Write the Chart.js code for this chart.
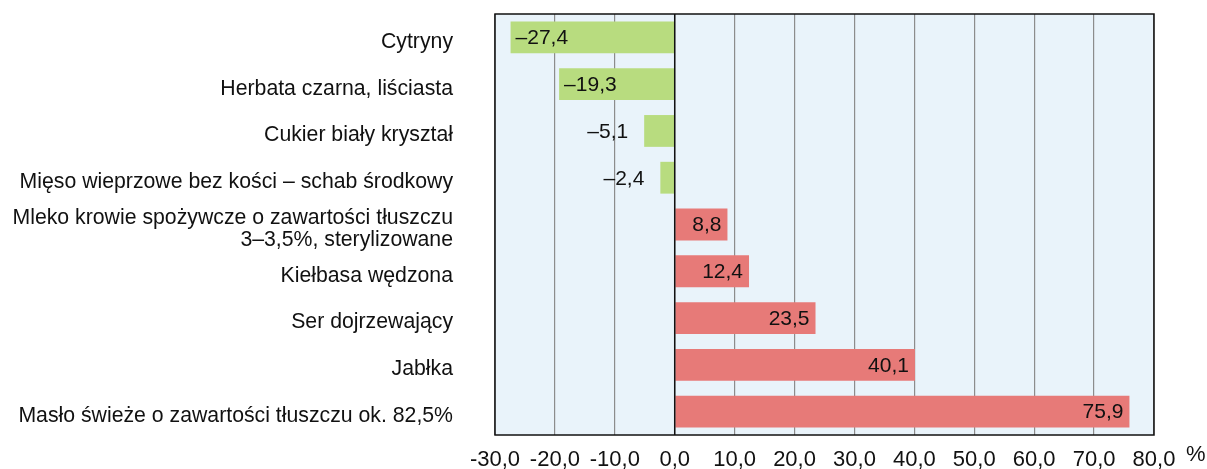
<!DOCTYPE html>
<html>
<head>
<meta charset="utf-8">
<script src="https://cdn.jsdelivr.net/npm/chart.js@4"></script>
<style>
  html, body { margin: 0; padding: 0; background: #ffffff; }
  #wrap { width: 1207px; height: 469px; position: relative; overflow: hidden; }
</style>
</head>
<body>
<div id="wrap"><canvas id="c" width="1207" height="469"></canvas></div>
<script>
const categories = [
  "Cytryny",
  "Herbata czarna, liściasta",
  "Cukier biały kryształ",
  "Mięso wieprzowe bez kości – schab środkowy",
  ["Mleko krowie spożywcze o zawartości tłuszczu", "3–3,5%, sterylizowane"],
  "Kiełbasa wędzona",
  "Ser dojrzewający",
  "Jabłka",
  "Masło świeże o zawartości tłuszczu ok. 82,5%"
];
const values = [-27.4, -19.3, -5.1, -2.4, 8.8, 12.4, 23.5, 40.1, 75.9];
const xMin = -30, xMax = 80, xStep = 10;
const unitLabel = "%";

const GREEN = "#b8dc7f";
const RED = "#e77a78";
const FONT = "'Liberation Sans', Arial, sans-serif";

function fmt(v, dec) {
  const s = Math.abs(v).toFixed(dec).replace(".", ",");
  return v < 0 ? "\u2013" + s : s;
}

const framePlugin = {
  id: "frame",
  beforeDraw(chart) {
    const { ctx, chartArea: a } = chart;
    ctx.save();
    ctx.fillStyle = "#e9f3fa";
    ctx.fillRect(a.left, a.top, a.right - a.left, a.bottom - a.top);
    ctx.restore();
  },
  afterDraw(chart) {
    const { ctx, chartArea: a } = chart;
    ctx.save();
    ctx.strokeStyle = "#111111";
    ctx.lineWidth = 1.5;
    ctx.strokeRect(a.left, a.top, a.right - a.left, a.bottom - a.top);
    const x0 = chart.scales.x.getPixelForValue(0);
    ctx.beginPath();
    ctx.moveTo(x0, a.top);
    ctx.lineTo(x0, a.bottom);
    ctx.stroke();
    ctx.fillStyle = "#111111";
    ctx.font = "22px " + FONT;
    ctx.textAlign = "left";
    ctx.textBaseline = "middle";
    ctx.fillText(unitLabel, a.right + 32, a.bottom + 20);
    ctx.restore();
  }
};

const labelPlugin = {
  id: "vlabels",
  afterDatasetsDraw(chart) {
    const { ctx } = chart;
    const meta = chart.getDatasetMeta(0);
    ctx.save();
    ctx.font = "21px " + FONT;
    ctx.fillStyle = "#111111";
    ctx.textBaseline = "middle";
    meta.data.forEach((bar, i) => {
      const v = values[i];
      const txt = fmt(v, 1);
      const w = ctx.measureText(txt).width;
      const left = Math.min(bar.x, bar.base);
      const right = Math.max(bar.x, bar.base);
      if (v >= 0) {
        ctx.textAlign = "right";
        ctx.fillText(txt, right - 6, bar.y + 1);
      } else if (right - left > w + 10) {
        ctx.textAlign = "left";
        ctx.fillText(txt, left + 5, bar.y + 1);
      } else {
        ctx.textAlign = "right";
        ctx.fillText(txt, left - 16, bar.y + 1);
      }
    });
    ctx.restore();
  }
};

new Chart(document.getElementById("c"), {
  type: "bar",
  data: {
    labels: categories,
    datasets: [{
      data: values,
      backgroundColor: values.map(v => v < 0 ? GREEN : RED),
      borderWidth: 0,
      categoryPercentage: 1,
      barPercentage: 0.68
    }]
  },
  options: {
    indexAxis: "y",
    responsive: false,
    animation: false,
    devicePixelRatio: 1,
    layout: { padding: { top: 14, right: 53, bottom: 0, left: 0 } },
    plugins: { legend: { display: false }, tooltip: { enabled: false } },
    scales: {
      x: {
        type: "linear",
        min: xMin, max: xMax,
        ticks: {
          stepSize: xStep,
          color: "#111111",
          font: { family: FONT, size: 22 },
          padding: 12,
          maxRotation: 0,
          autoSkip: false,
          callback: v => v.toFixed(1).replace(".", ",")
        },
        grid: {
          color: "#8c8c8c",
          lineWidth: 1.2,
          drawTicks: false
        },
        border: { display: false },
        afterFit: s => { s.height = 34; s.paddingLeft = 0; s.paddingRight = 0; }
      },
      y: {
        ticks: {
          color: "#111111",
          font: { family: FONT, size: 21.25, lineHeight: 1.05 },
          padding: 42,
          labelOffset: 4.5,
          autoSkip: false
        },
        grid: { display: false, drawTicks: false },
        border: { display: false },
        afterFit: s => { s.width = 495; s.paddingTop = 0; s.paddingBottom = 0; }
      }
    }
  },
  plugins: [framePlugin, labelPlugin]
});
</script>
</body>
</html>
